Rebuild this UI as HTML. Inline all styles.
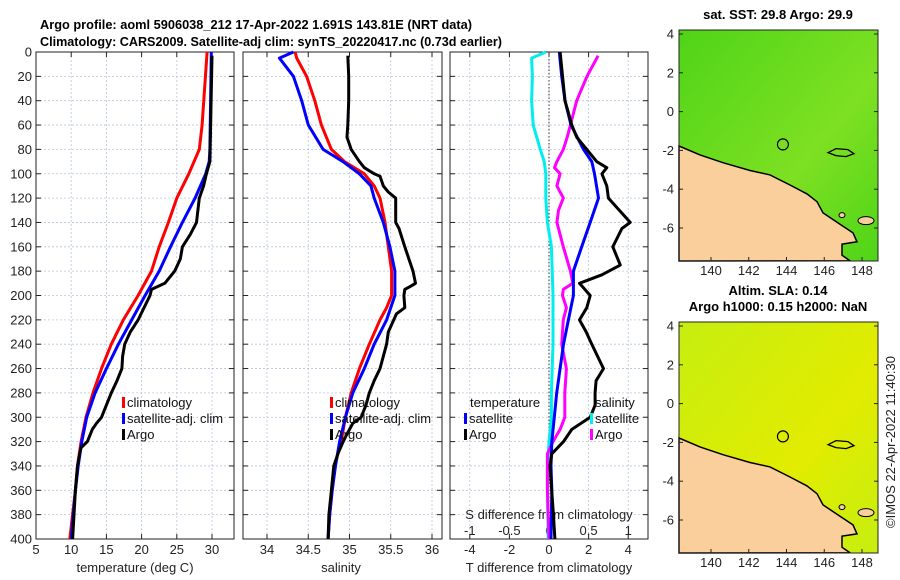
<!DOCTYPE html>
<html><head><meta charset="utf-8"><style>
html,body{margin:0;padding:0;background:#fff}
svg{display:block;font-family:"Liberation Sans","DejaVu Sans",sans-serif}
</style></head><body>
<svg id="fig" width="900" height="580" viewBox="0 0 900 580">
<text x="40" y="29" font-size="13" font-weight="bold" textLength="432" lengthAdjust="spacingAndGlyphs">Argo profile: aoml 5906038_212 17-Apr-2022 1.691S 143.81E (NRT data)</text>
<text x="40" y="46" font-size="13" font-weight="bold" textLength="462" lengthAdjust="spacingAndGlyphs">Climatology: CARS2009. Satellite-adj clim: synTS_20220417.nc (0.73d earlier)</text>
<g id="maps"></g>
<g id="panels"></g>
</svg>
<script>
// ---- data ----
const tempClimDepth=[0,60,80,100,120,140,160,180,200,220,240,260,280,300,320,340,360,380,400];
const tempClim=[29.3,28.6,28.2,26.7,25,23.8,22.5,21.4,19.5,17.4,15.7,14.3,13.1,12.1,11.4,10.9,10.6,10.2,9.8];
const tempSatDepth=[0,80,90,100,120,140,160,180,200,220,240,260,280,300,320,340,360,380,400];
const tempSat=[29.9,29.7,29.6,29.1,27.6,25.8,24.1,22.5,20.5,18.6,16.7,15,13.4,12.2,11.5,11,10.6,10.3,10];
const tempArgoDepth=[3,90,100,110,120,140,150,160,170,180,190,195,200,220,230,240,250,260,270,280,290,300,305,310,320,325,330,340,360,380,400];
const tempArgo=[30,29.7,29.2,28.8,28.2,27.8,26.9,25.8,25.5,24.7,23.3,21.4,21.2,19.5,18.4,17.6,17.3,17.2,16.5,15.7,15,14.3,13.6,13,12.3,11.4,11.2,10.9,10.6,10.4,10.2];
const salClimDepth=[0,5,20,40,60,80,90,100,110,120,140,160,180,200,210,220,240,260,280,300,320,340,360,380,400];
const salClim=[34.34,34.36,34.48,34.58,34.66,34.78,34.94,35.18,35.3,35.37,35.43,35.47,35.51,35.51,35.45,35.37,35.24,35.12,35.02,34.95,34.9,34.82,34.79,34.76,34.74];
const salSatDepth=[0,5,20,40,60,80,90,100,110,120,140,160,180,200,220,240,260,280,300,320,340,360,380,400];
const salSat=[34.32,34.15,34.32,34.42,34.5,34.68,34.92,35.12,35.26,35.3,35.41,35.49,35.55,35.55,35.45,35.3,35.18,35.04,34.95,34.88,34.83,34.79,34.76,34.74];
const salArgoDepth=[3,20,40,60,70,80,90,95,100,102,110,115,120,140,145,160,170,180,190,192,195,200,210,215,230,240,260,270,280,290,300,305,315,322,330,340,360,380,400];
const salArgo=[34.98,34.99,34.99,34.98,34.97,35.02,35.12,35.18,35.3,35.37,35.41,35.47,35.56,35.56,35.6,35.67,35.72,35.77,35.8,35.75,35.67,35.66,35.67,35.57,35.47,35.45,35.37,35.3,35.24,35.2,35.14,35.04,34.96,34.91,34.86,34.81,34.78,34.75,34.74];
const sDiffSatDepth=[0,5,20,40,60,80,90,100,120,140,160,180,200,240,280,300,320,340,360,400];
const sDiffSat=[-0.04,-0.22,-0.21,-0.22,-0.2,-0.11,-0.06,-0.04,-0.04,-0.02,0.03,0.04,0.05,0.05,0.03,0.03,0.0,-0.02,-0.02,-0.01];
const sDiffArgoDepth=[3,20,40,60,70,80,90,95,100,110,120,130,140,160,180,190,195,200,210,220,240,260,280,300,310,320,330,340,360,380,400];
const sDiffArgo=[0.62,0.48,0.35,0.27,0.23,0.18,0.1,0.07,0.14,0.1,0.18,0.12,0.1,0.18,0.27,0.3,0.18,0.17,0.22,0.18,0.16,0.22,0.2,0.2,0.14,0.05,-0.02,-0.02,-0.02,-0.01,0];
const tDiffSatDepth=[0,20,40,60,80,90,100,120,140,160,180,200,220,240,260,280,300,320,340,360,400];
const tDiffSat=[0.52,0.64,0.81,1.11,1.74,2.16,2.3,2.5,2.08,1.65,1.23,1.23,0.98,0.73,0.56,0.39,0.27,0.14,0.1,0.14,0.1];
const tDiffArgoDepth=[0,40,60,70,80,90,95,100,110,120,140,145,160,175,183,190,200,210,220,230,240,260,270,280,290,300,310,320,330,340,380,400];
const tDiffArgo=[0.56,0.81,1.15,1.4,1.91,2.41,2.92,2.67,2.92,3.0,4.1,3.68,3.22,3.6,2.67,1.54,2.08,1.91,1.54,1.88,2.16,2.75,2.38,2.33,2.33,2.08,1.15,0.73,0.14,0.05,0.22,0.3];
const depthTicks=[0,20,40,60,80,100,120,140,160,180,200,220,240,260,280,300,320,340,360,380,400];
const tempTicks=[5,10,15,20,25,30];
const salTicks=[34,34.5,35,35.5,36];
const tDiffTicks=[-4,-2,0,2,4];
const sDiffTicks=[-1,-0.5,0,0.5,1];
const latTicks=[4,2,0,-2,-4,-6];
const lonTicks=[140,142,144,146,148];

const NS='http://www.w3.org/2000/svg';
function el(tag,attrs,parent,text){const e=document.createElementNS(NS,tag);for(const k in attrs)e.setAttribute(k,attrs[k]);if(text!==undefined)e.textContent=text;parent.appendChild(e);return e;}
const panels=document.getElementById('panels');
const Y0=52,Y1=539;
const yD=d=>Y0+(d/400)*(Y1-Y0);
function linear(d0,d1,r0,r1){return v=>r0+(v-d0)/(d1-d0)*(r1-r0);}

function panel(name,x0,x1,xs,ticks,showDepth){
  const g=el('g',{},panels);
  
  
  ticks.forEach(t=>{const x=xs(t);const l=el('line',{x1:x,x2:x,y1:Y0,y2:Y1,stroke:'#b8c4dc','stroke-width':0.8,'stroke-dasharray':'2,2'},g);
    });
  depthTicks.forEach(d=>{const y=yD(d);const l=el('line',{x1:x0,x2:x1,y1:y,y2:y,stroke:'#b8c4dc','stroke-width':0.8,'stroke-dasharray':'2,2'},g);
    
    el('line',{x1:x0,x2:x0+5,y1:y,y2:y,stroke:'#222'},g);el('line',{x1:x1,x2:x1-5,y1:y,y2:y,stroke:'#222'},g);
    if(showDepth){const t=el('text',{x:x0-4,y:y+4.5,'font-size':13,'text-anchor':'end',fill:'#222'},g,String(d));
      }});
  ticks.forEach(t=>{const x=xs(t);el('line',{x1:x,x2:x,y1:Y1,y2:Y1-5,stroke:'#222'},g);el('line',{x1:x,x2:x,y1:Y0,y2:Y0+5,stroke:'#222'},g);});
  const b=el('rect',{x:x0,y:Y0,width:x1-x0,height:Y1-Y0,fill:'none',stroke:'#222','stroke-width':1},g);
  
  return g;
}
function series(g,name,depths,vals,xs,color,w){
  const pts=depths.map((d,i)=>xs(vals[i]).toFixed(1)+','+yD(d).toFixed(1)).join(' ');
  const p=el('polyline',{points:pts,fill:'none',stroke:color,'stroke-width':w||3,'stroke-linejoin':'round'},g);
  
}
function legend(g,x,y,items){
  items.forEach((it,i)=>{const yy=y+i*16;
    el('rect',{x:x,y:yy-10,width:3,height:11,fill:it[1]},g);
    const t=el('text',{x:x+5,y:yy,'font-size':13,fill:'#111'},g,it[0]);
    });
}
const TB=554, TT=572;
// panel 1
const xT=linear(5,30,36,212);
const g1=panel('temperature-panel',36,234,xT,tempTicks,true);
tempTicks.forEach(t=>{const tx=el('text',{x:xT(t),y:TB,'font-size':13,'text-anchor':'middle',fill:'#222'},g1,String(t));});
let lab=el('text',{x:135,y:TT,'font-size':13,'text-anchor':'middle',fill:'#222'},g1,'temperature (deg C)');

series(g1,'temp-climatology-line',tempClimDepth,tempClim,xT,'#ff0000');
series(g1,'temp-satellite-line',tempSatDepth,tempSat,xT,'#0000ff');
series(g1,'temp-argo-line',tempArgoDepth,tempArgo,xT,'#000');
legend(g1,122,407,[['climatology','#ff0000'],['satellite-adj. clim','#0000ff'],['Argo','#000']]);
// panel 2
const xS=linear(34,36,267,432);
const g2=panel('salinity-panel',243,442,xS,salTicks,false);
salTicks.forEach(t=>{const tx=el('text',{x:xS(t),y:TB,'font-size':13,'text-anchor':'middle',fill:'#222'},g2,String(t));});
lab=el('text',{x:341,y:TT,'font-size':13,'text-anchor':'middle',fill:'#222'},g2,'salinity');

series(g2,'sal-climatology-line',salClimDepth,salClim,xS,'#ff0000');
series(g2,'sal-satellite-line',salSatDepth,salSat,xS,'#0000ff');
series(g2,'sal-argo-line',salArgoDepth,salArgo,xS,'#000');
legend(g2,330,407,[['climatology','#ff0000'],['satellite-adj. clim','#0000ff'],['Argo','#000']]);
// panel 3
const xTD=linear(-5,5,450,648);
const xSD=linear(-1.25,1.25,450,648);
const g3=panel('difference-panel',450,648,xTD,tDiffTicks,false);
el('line',{x1:xTD(0),x2:xTD(0),y1:Y0,y2:Y1,stroke:'#333','stroke-width':1,'stroke-dasharray':'1.5,2'},g3);
tDiffTicks.forEach(t=>{const tx=el('text',{x:xTD(t),y:TB,'font-size':13,'text-anchor':'middle',fill:'#222'},g3,String(t));});
sDiffTicks.forEach(t=>{const tx=el('text',{x:xSD(t),y:535,'font-size':13,'text-anchor':'middle',fill:'#222'},g3,String(t));});
lab=el('text',{x:549,y:TT,'font-size':13,'text-anchor':'middle',fill:'#222'},g3,'T difference from climatology');

lab=el('text',{x:549,y:519,'font-size':13,'text-anchor':'middle',fill:'#222'},g3,'S difference from climatology');

series(g3,'s-diff-satellite-line',sDiffSatDepth,sDiffSat,xSD,'#00eeee');
series(g3,'s-diff-argo-line',sDiffArgoDepth,sDiffArgo,xSD,'#ff00ff');
series(g3,'t-diff-satellite-line',tDiffSatDepth,tDiffSat,xTD,'#0000ff');
series(g3,'t-diff-argo-line',tDiffArgoDepth,tDiffArgo,xTD,'#000');
let tt=el('text',{x:470,y:407,'font-size':13,fill:'#111'},g3,'temperature');
legend(g3,464,423,[['satellite','#0000ff'],['Argo','#000']]);
tt=el('text',{x:595,y:407,'font-size':13,fill:'#111'},g3,'salinity');
legend(g3,590,423,[['satellite','#00eeee'],['Argo','#ff00ff']]);

// maps
const maps=document.getElementById('maps');
const lonX=linear(140,148,711,862);
const MH=231, SY=1.115;
function mapPanel(name,top,sea,sea2,title){
  const latY=linear(4,-6,top+4,top+198);
  const g=el('g',{},maps);
  
  const id='grad'+top;
  const defs=el('defs',{},g);
  const lg=el('linearGradient',{id:id,x1:0,y1:0,x2:1,y2:1},defs);
  el('stop',{offset:'0',"stop-color":sea},lg);el('stop',{offset:'0.6',"stop-color":sea2},lg);el('stop',{offset:'1',"stop-color":sea},lg);
  el('rect',{x:679,y:top,width:199,height:MH,fill:'url(#'+id+')'},g);
  const Y=v=>top+(v-28)*SY;
  const coast=[[679,132],[700,140],[723,147],[750,154],[770,158],[790,167],[807,175],[817,182],[823,192],[843,204],[853,210],[857,218],[842,220],[842,230],[850,235]];
  const pts=coast.map(p=>p[0]+','+Y(p[1]).toFixed(1)).join(' ')+' 679,'+(top+MH);
  const land=el('polygon',{points:pts,fill:'#fbcf9c',stroke:'#000','stroke-width':1.5},g);
  
  const iy=Y(138);
  const isl=el('path',{d:`M828 ${iy} l8 -4 l12 1 l6 4 l-8 3 l-10 -1z`,fill:'none',stroke:'#000','stroke-width':1.3},g);
  
  el('ellipse',{cx:866,cy:Y(199),rx:8,ry:4,fill:'#fbcf9c',stroke:'#000'},g);
  el('ellipse',{cx:842,cy:Y(194),rx:3,ry:2.5,fill:'#fbcf9c',stroke:'#000'},g);
  const c=el('circle',{cx:lonX(143.81),cy:latY(-1.691),r:5.5,fill:'none',stroke:'#000','stroke-width':1.2},g);
  
  el('rect',{x:679,y:top,width:199,height:MH,fill:'none',stroke:'#222'},g);
  latTicks.forEach(t=>{const y=latY(t);el('line',{x1:679,x2:683,y1:y,y2:y,stroke:'#222'},g);el('line',{x1:878,x2:874,y1:y,y2:y,stroke:'#222'},g);
    const tx=el('text',{x:674,y:y+4.5,'font-size':13,'text-anchor':'end',fill:'#222'},g,String(t));});
  lonTicks.forEach(t=>{const x=lonX(t);el('line',{x1:x,x2:x,y1:top+MH,y2:top+MH-4,stroke:'#222'},g);
    const tx=el('text',{x:x,y:top+MH+14,'font-size':13,'text-anchor':'middle',fill:'#222'},g,String(t));});
  title.forEach((s,i)=>{const tx=el('text',{x:778,y:(top-11)-(title.length-1-i)*16,'font-size':13,'font-weight':'bold','text-anchor':'middle'},g,s);
    });
}
mapPanel('sst-map',30,'#4fd418','#7ee022',['sat. SST: 29.8 Argo: 29.9']);
mapPanel('sla-map',322,'#c6ee10','#e2ec00',['Altim. SLA: 0.14','Argo h1000: 0.15 h2000: NaN']);
const cp=el('text',{x:0,y:0,'font-size':13,fill:'#222',transform:'translate(895,442) rotate(-90)','text-anchor':'middle'},maps,'©IMOS 22-Apr-2022 11:40:30');

</script>
</body></html>
